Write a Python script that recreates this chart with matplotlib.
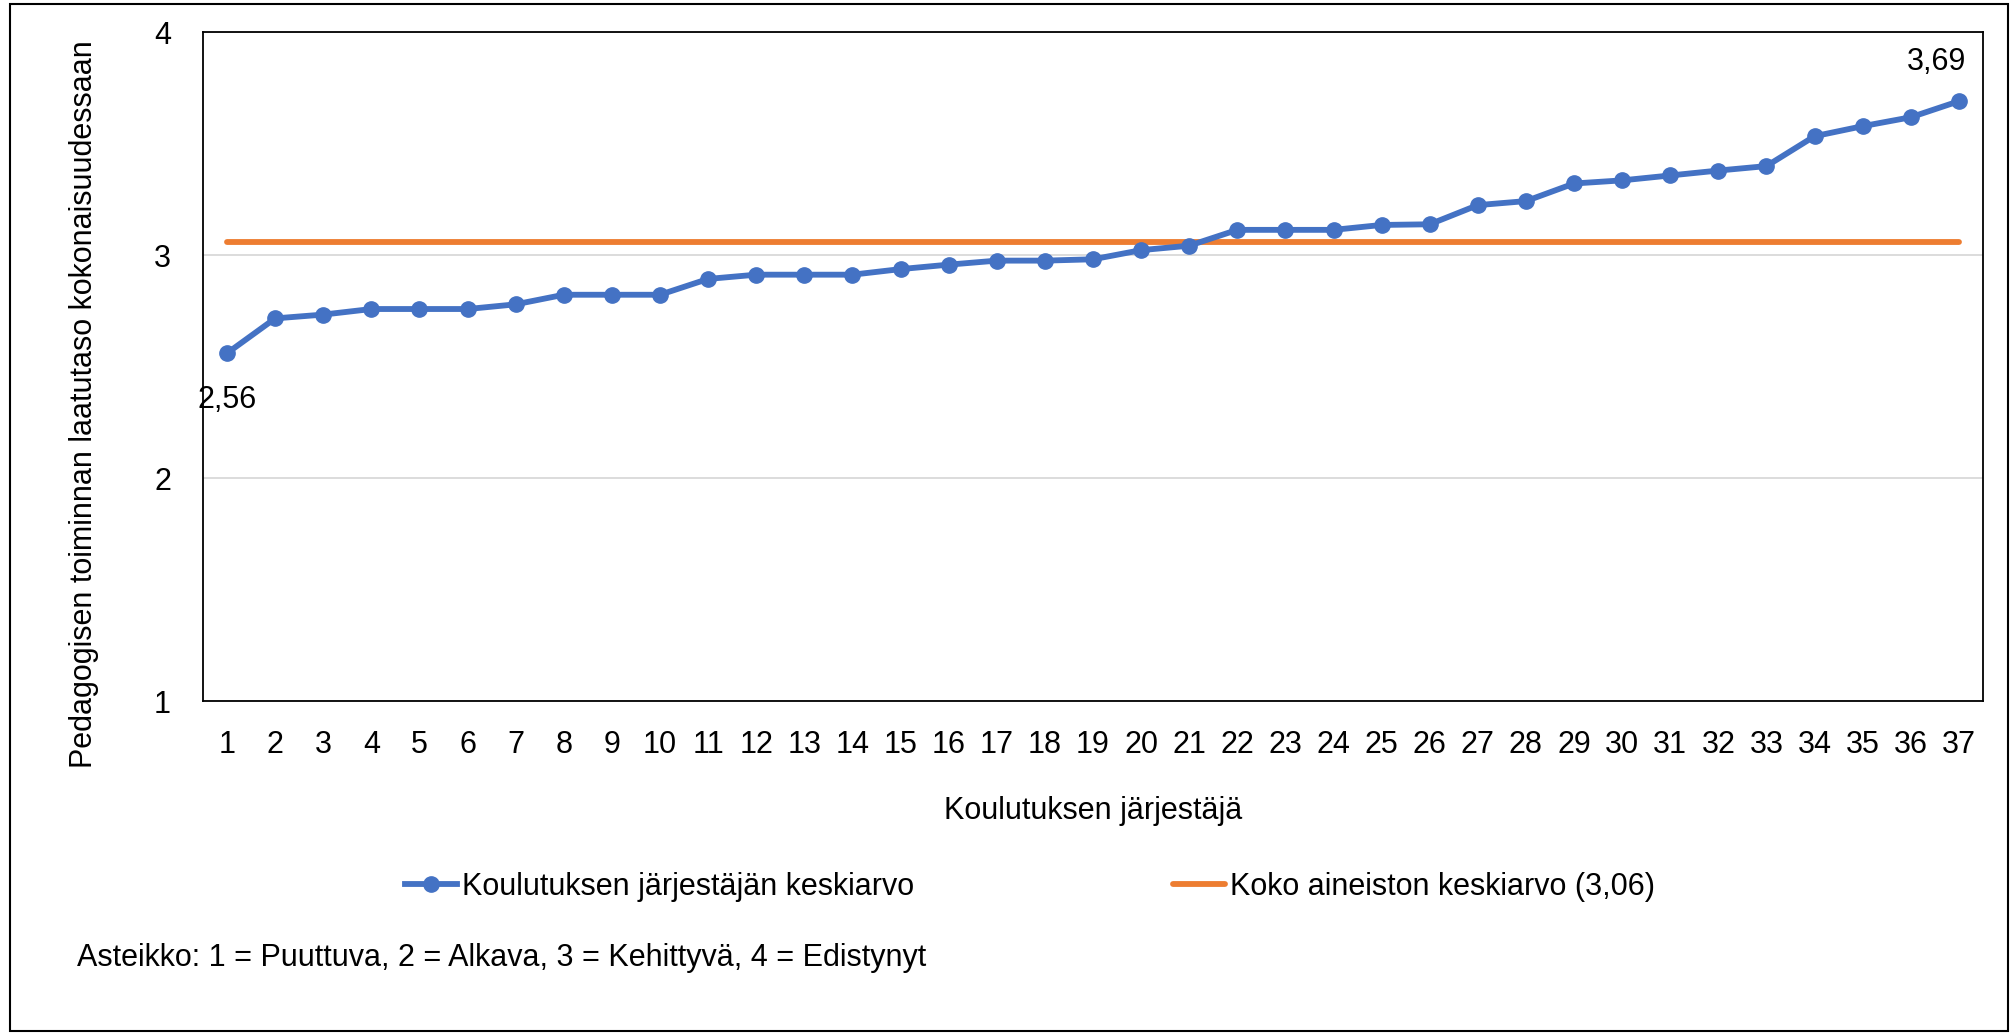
import matplotlib
matplotlib.use("Agg")
import matplotlib.pyplot as plt
from matplotlib.patches import Rectangle
import numpy as np

plt.rcParams['font.family'] = ['Liberation Sans', 'DejaVu Sans']

# ---- data ----
providers = list(range(1, 38))
provider_means = [2.56, 2.716, 2.733, 2.758, 2.758, 2.758, 2.779, 2.822, 2.822, 2.822,
                  2.893, 2.912, 2.912, 2.912, 2.937, 2.957, 2.975, 2.975, 2.981, 3.022,
                  3.042, 3.113, 3.113, 3.113, 3.135, 3.138, 3.224, 3.242, 3.321, 3.335,
                  3.357, 3.379, 3.399, 3.533, 3.578, 3.618, 3.69]
overall_mean = 3.06
y_ticks = [1, 2, 3, 4]
series_labels = ["Koulutuksen järjestäjän keskiarvo", "Koko aineiston keskiarvo (3,06)"]
x_title = "Koulutuksen järjestäjä"
y_title = "Pedagogisen toiminnan laatutaso kokonaisuudessaan"
note = "Asteikko: 1 = Puuttuva, 2 = Alkava, 3 = Kehittyvä, 4 = Edistynyt"

blue = "#4472C4"
orange = "#ED7D31"
fs = 22

fig = plt.figure(figsize=(20.16, 10.35), dpi=100)
ax = fig.add_axes([0.1007, 0.3227, 0.8829, 0.6463])

l1, = ax.plot(providers, provider_means, color=blue, lw=4.2, marker='o', ms=11,
              solid_joinstyle='round', zorder=3)
l2, = ax.plot(providers, [overall_mean] * len(providers), color=orange, lw=4.2,
              solid_capstyle='round', zorder=2)

ax.set_xlim(0.5, len(providers) + 0.5)
ax.set_ylim(1, 4)
ax.set_yticks(y_ticks)
ax.set_yticklabels([str(v) for v in y_ticks], fontsize=fs)
ax.set_xticks(providers)
ax.set_xticklabels([str(p) for p in providers], fontsize=fs)
ax.tick_params(axis='both', length=0)
ax.tick_params(axis='x', pad=21)
ax.tick_params(axis='y', pad=23)
ax.grid(axis='y', color='#D9D9D9', lw=1.3)
ax.set_axisbelow(True)
for s in ax.spines.values():
    s.set_color('black')
    s.set_linewidth(1.3)

ax.set_xlabel(x_title, fontsize=fs, labelpad=26)
fig.text(0.0415, 0.61, y_title, fontsize=fs, rotation=90, ha='center', va='center')

def fmt(v):
    return f"{v:.2f}".replace('.', ',')

ax.annotate(fmt(provider_means[0]), (providers[0], provider_means[0]),
            xytext=(0, -34), textcoords='offset points', ha='center', va='center', fontsize=fs)
ax.annotate(fmt(provider_means[-1]), (providers[-1], provider_means[-1]),
            xytext=(-16, 28), textcoords='offset points', ha='center', va='center', fontsize=fs)

leg1 = fig.legend([l1], [series_labels[0]], loc='center left', bbox_to_anchor=(0.201, 0.143),
                  frameon=False, fontsize=fs, handlelength=1.7, handletextpad=0.15,
                  borderpad=0, borderaxespad=0)
leg2 = fig.legend([l2], [series_labels[1]], loc='center left', bbox_to_anchor=(0.582, 0.143),
                  frameon=False, fontsize=fs, handlelength=1.7, handletextpad=0.15,
                  borderpad=0, borderaxespad=0)

fig.text(0.038, 0.0744, note, fontsize=fs, ha='left', va='center')

fig.patches.append(Rectangle((0.005, 0.004), 0.991, 0.992, transform=fig.transFigure,
                             fill=False, edgecolor='black', lw=1.5))

fig.savefig("out.png", dpi=100)
